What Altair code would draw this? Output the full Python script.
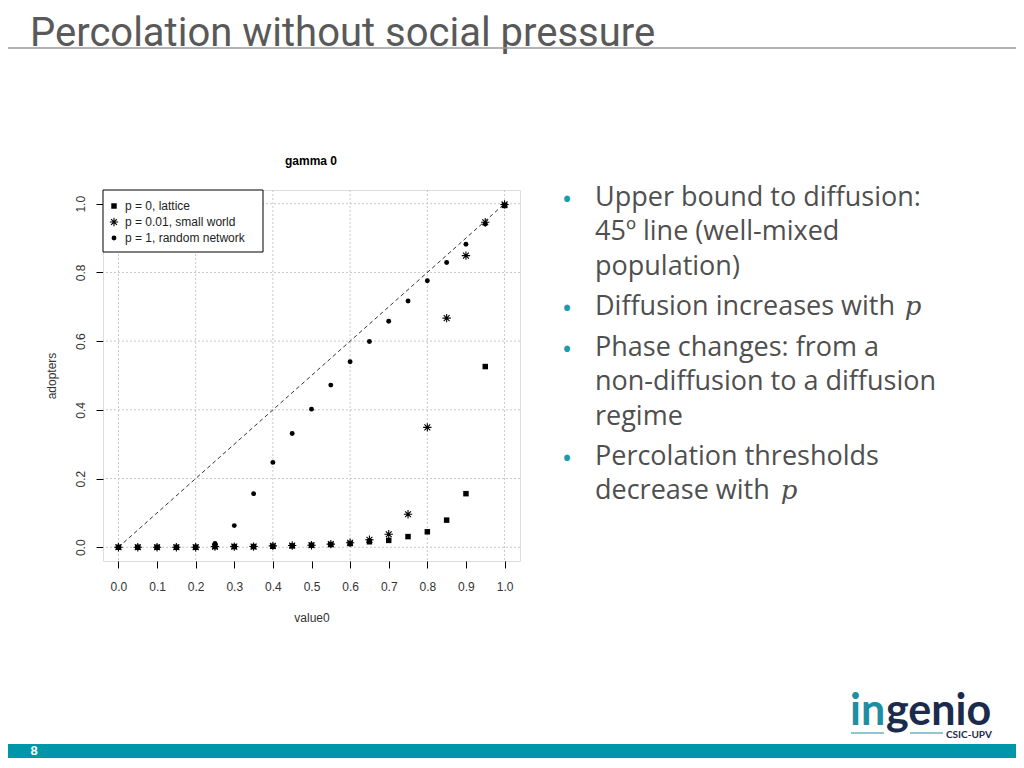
import altair as alt
import pandas as pd

# ---------------- data ----------------
xs = [0.0, 0.05, 0.1, 0.15, 0.2, 0.25, 0.3, 0.35, 0.4, 0.45, 0.5,
      0.55, 0.6, 0.65, 0.7, 0.75, 0.8, 0.85, 0.9, 0.95, 1.0]
lattice = [0.0, 0.0, 0.0, 0.0, 0.0, 0.002, 0.002, 0.002, 0.003, 0.004, 0.006,
           0.008, 0.011, 0.016, 0.020, 0.031, 0.045, 0.079, 0.156, 0.526, 0.995]
small_world = [0.0, 0.0, 0.0, 0.0, 0.0, 0.002, 0.002, 0.002, 0.004, 0.005, 0.006,
               0.009, 0.013, 0.022, 0.038, 0.096, 0.349, 0.667, 0.849, 0.946, 0.998]
random_net = [0.0, 0.0, 0.0, 0.0, 0.001, 0.011, 0.063, 0.156, 0.247, 0.331, 0.402,
              0.472, 0.540, 0.599, 0.658, 0.717, 0.776, 0.829, 0.882, 0.941, 0.995]
series_labels = ["p = 0, lattice", "p = 0.01, small world", "p = 1, random network"]
x_ticks = [0.0, 0.1, 0.2, 0.3, 0.4, 0.5, 0.6, 0.7, 0.8, 0.9, 1.0]
y_ticks = [0.0, 0.2, 0.4, 0.6, 0.8, 1.0]
grid_vals = [0.0, 0.2, 0.4, 0.6, 0.8, 1.0]
diag_x = [0.0, 1.0]
diag_y = [0.0, 1.0]
slide_title = "Percolation without social pressure"
plot_title = "gamma 0"
x_title = "value0"
y_title = "adopters"
bullet_lines = ["Upper bound to diffusion:", "45º line (well-mixed", "population)",
                "Diffusion increases with", "Phase changes: from a",
                "non-diffusion to a diffusion", "regime",
                "Percolation thresholds", "decrease with"]
page_number = "8"

# ---------------- layout ----------------
OX, OY = 103, 190          # plot origin in page pixels
W, H = 417, 371
RIGHT, BOTTOM = 1016, 758  # last visible page pixels of the chart
TEAL = "#0096a9"
TXT = "#4f4f4f"
AXF = "Liberation Sans"

def px(x):
    return x - OX

def py(y):
    return y - OY

scale_x = alt.Scale(domain=[-0.04, 1.04], nice=False, zero=False)
scale_y = alt.Scale(domain=[-0.04, 1.04], nice=False, zero=False)
axis_x = alt.Axis(values=x_ticks, format=".1f", grid=False, domain=False,
                  tickColor="black", tickSize=7, labelFontSize=12, labelColor="#333",
                  labelFont=AXF, labelPadding=13, title=x_title, titleFont=AXF,
                  titleFontSize=12, titleFontWeight="normal", titleColor="#333",
                  titlePadding=20)
axis_y = alt.Axis(values=y_ticks, format=".1f", grid=False, domain=False,
                  tickColor="black", tickSize=7, labelFontSize=12, labelColor="#333",
                  labelFont=AXF, labelAngle=270, labelAlign="center",
                  labelBaseline="bottom", labelPadding=9, title=y_title,
                  titleFont=AXF, titleFontSize=12, titleFontWeight="normal",
                  titleColor="#333", titlePadding=16)

X = alt.X("x:Q", scale=scale_x, axis=axis_x)
Y = alt.Y("y:Q", scale=scale_y, axis=axis_y)

df = pd.DataFrame({"x": xs, "lat": lattice, "sw": small_world, "rn": random_net})

grid_v = alt.Chart(pd.DataFrame({"x": grid_vals})).mark_rule(
    color="#c8c8c8", strokeDash=[2, 2], strokeWidth=1).encode(x=X)
grid_h = alt.Chart(pd.DataFrame({"y": grid_vals})).mark_rule(
    color="#c8c8c8", strokeDash=[2, 2], strokeWidth=1).encode(y=Y)
diag = alt.Chart(pd.DataFrame({"x": diag_x, "y": diag_y})).mark_line(
    color="#333", strokeDash=[4, 3], strokeWidth=1).encode(x=X, y=Y)

STAR = "M-1,0L1,0M0,-1L0,1M-0.7,-0.7L0.7,0.7M-0.7,0.7L0.7,-0.7"

sq = alt.Chart(df).transform_calculate(y="datum.lat").mark_square(
    color="black", size=30, opacity=1).encode(x=X, y=Y)
st = alt.Chart(df).transform_calculate(y="datum.sw").mark_point(
    shape=STAR, filled=False, stroke="black", strokeWidth=1.1, size=70,
    opacity=1).encode(x=X, y=Y)
ci = alt.Chart(df).transform_calculate(y="datum.rn").mark_circle(
    color="black", size=24, opacity=1).encode(x=X, y=Y)

one = pd.DataFrame({"t": [""]})

legend_box = alt.Chart(one).mark_rect(fill="white", stroke="black", strokeWidth=1).encode(
    x=alt.value(0), x2=alt.value(px(263)), y=alt.value(0), y2=alt.value(py(252)))
leg_sq = alt.Chart(one).mark_square(color="black", size=30, opacity=1).encode(
    x=alt.value(px(114)), y=alt.value(py(206)))
leg_st = alt.Chart(one).mark_point(shape=STAR, filled=False, stroke="black",
                                   strokeWidth=1.1, size=70, opacity=1).encode(
    x=alt.value(px(114)), y=alt.value(py(222)))
leg_ci = alt.Chart(one).mark_circle(color="black", size=24, opacity=1).encode(
    x=alt.value(px(114)), y=alt.value(py(238)))


def txt(s, x, y, size, color, font, weight="normal", style="normal",
        align="left", baseline="alphabetic", angle=0):
    return alt.Chart(pd.DataFrame({"t": [s]})).mark_text(
        align=align, baseline=baseline, fontSize=size, color=color, font=font,
        fontWeight=weight, fontStyle=style, angle=angle).encode(
        x=alt.value(px(x)), y=alt.value(py(y)), text="t:N")


layers = [grid_v, grid_h, diag, legend_box, sq, st, ci, leg_sq, leg_st, leg_ci]

# legend labels
for lab, yy in zip(series_labels, [206, 222, 238]):
    layers.append(txt(lab, 125, yy, 12, "#222", AXF, baseline="middle"))

# plot title
layers.append(txt(plot_title, 311, 161, 12, "black", AXF, weight="bold",
                  align="center", baseline="middle"))

# slide title and its rule
layers.append(txt(slide_title, 30, 46, 40, "#595959", "Roboto"))
layers.append(alt.Chart(one).mark_rule(color="#9a9a9a", strokeWidth=1.5).encode(
    x=alt.value(px(8)), x2=alt.value(px(RIGHT)), y=alt.value(py(48)), y2=alt.value(py(48))))

# bullets
BFONT = "Open Sans"
bases = [206, 240, 275, 315, 356, 390, 425, 465, 499]
for s, b in zip(bullet_lines, bases):
    layers.append(txt(s, 595, b, 27, TXT, BFONT))
for b in [206, 315, 356, 465]:
    layers.append(txt("•", 567, b + 3, 28, "#1a9bb0", BFONT, align="center"))
layers.append(txt("p", 913, 315, 26, TXT, "DejaVu Serif", style="italic", align="center"))
layers.append(txt("p", 789, 499, 26, TXT, "DejaVu Serif", style="italic", align="center"))

# logo
layers.append(txt("in", 850, 725, 43, "#1f8ea3", "Lato", weight="bold"))
layers.append(txt("genio", 886, 725, 43, "#1b2b4b", "Lato", weight="bold"))
layers.append(alt.Chart(one).mark_rule(color="#1f8ea3", strokeWidth=1).encode(
    x=alt.value(px(851)), x2=alt.value(px(884)), y=alt.value(py(733)), y2=alt.value(py(733))))
layers.append(alt.Chart(one).mark_rule(color="#1f8ea3", strokeWidth=1).encode(
    x=alt.value(px(910)), x2=alt.value(px(943)), y=alt.value(py(733)), y2=alt.value(py(733))))
layers.append(txt("CSIC-UPV", 946, 738, 10, "#1b2b4b", "Lato", weight="bold"))

# footer band
layers.append(alt.Chart(one).mark_rect(color=TEAL).encode(
    x=alt.value(px(8)), x2=alt.value(px(RIGHT)), y=alt.value(py(744)), y2=alt.value(py(BOTTOM))))
layers.append(txt(page_number, 34, 751, 13, "white", "Liberation Sans", weight="bold",
                  align="center", baseline="middle"))

chart = alt.layer(*layers).properties(
    width=W, height=H,
    autosize=alt.AutoSizeParams(type="none"),
    padding={"left": OX - 8, "top": OY - 8, "right": RIGHT - (OX + W), "bottom": BOTTOM - (OY + H)},
).configure_view(stroke="black", strokeWidth=1).configure(background="white")

chart.save("out.html", embed_options={"renderer": "svg", "actions": False})
